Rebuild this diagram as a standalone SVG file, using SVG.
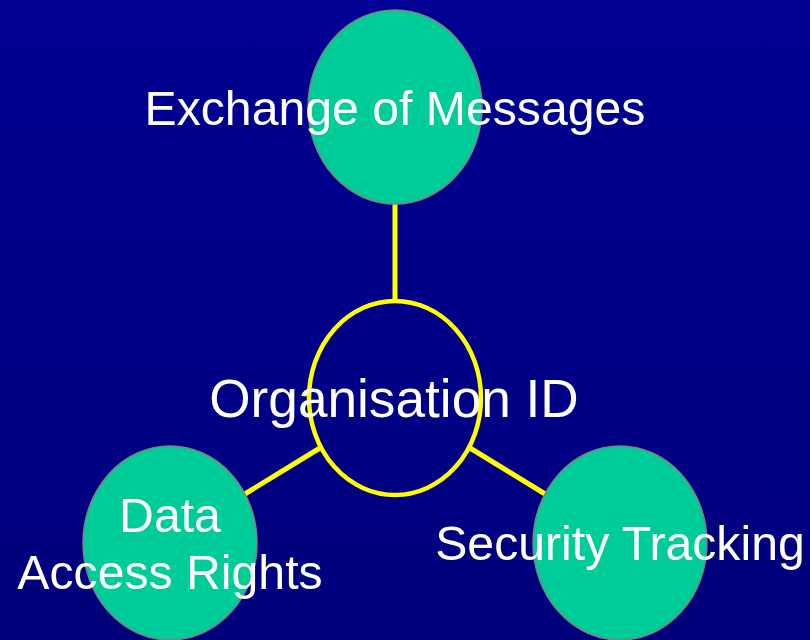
<svg xmlns="http://www.w3.org/2000/svg" width="810" height="640" viewBox="0 0 810 640">
<defs>
<linearGradient id="bg" x1="0" y1="0" x2="0" y2="1">
<stop offset="0" stop-color="#000092"/>
<stop offset="1" stop-color="#00007C"/>
</linearGradient>
<style>
.leaf{fill:#00CC99;stroke:#808080;stroke-width:1.5}
.hub{fill:none;stroke:#FFFF00;stroke-width:4.5}
.conn{stroke:#FFFF00;stroke-width:5;fill:none}
.t{font-family:"Liberation Sans",Arial,sans-serif;fill:#FFFFFF;text-anchor:middle}
.s48{font-size:48.2px}
.s53{font-size:53.2px}
</style>
</defs>
<rect width="810" height="640" fill="url(#bg)"/>
<g id="connectors">
<line class="conn" x1="395" y1="200" x2="395" y2="300"/>
<line class="conn" x1="320" y1="448" x2="240" y2="497"/>
<line class="conn" x1="470" y1="448" x2="550" y2="497"/>
</g>
<g id="node-exchange">
<ellipse class="leaf" cx="395" cy="107" rx="87" ry="97"/>
</g>
<g id="node-data">
<ellipse class="leaf" cx="170" cy="543" rx="87" ry="97"/>
</g>
<g id="node-security">
<ellipse class="leaf" cx="620" cy="543" rx="87" ry="97"/>
</g>
<g id="node-org">
<ellipse class="hub" cx="395" cy="398" rx="86" ry="97"/>
</g>
<g id="labels">
<text class="t s48" x="395" y="125">Exchange of Messages</text>
<text class="t s53" x="394" y="417">Organisation ID</text>
<text class="t s48" x="170" y="532">Data</text>
<text class="t s48" x="170" y="589">Access Rights</text>
<text class="t s48" x="620" y="560">Security Tracking</text>
</g>
</svg>
